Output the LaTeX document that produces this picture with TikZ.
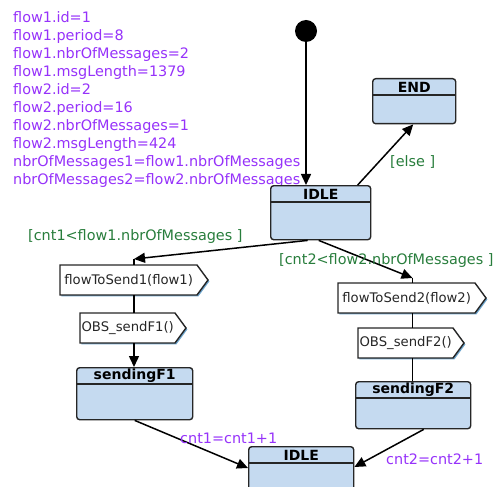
\documentclass[tikz,border=0pt]{standalone}
\usepackage{fontspec}
\setmainfont{DejaVu Sans}
\usetikzlibrary{arrows.meta}
\definecolor{stblue}{RGB}{197,218,240}
\definecolor{shblue}{RGB}{110,165,205}
\definecolor{vpurple}{RGB}{150,50,250}
\definecolor{ggreen}{RGB}{40,125,60}
\newcommand\mkstate[6]{%
  \node[stbox, minimum width=#4, minimum height=#5] (#1) at (#2,#3) {};
  \draw[line width=1.4pt, draw=black!85] ([yshift=-17pt]#1.north west) -- ([yshift=-17pt]#1.north east);
  \node[sttitle] (#1-t) at ([yshift=-9pt]#1.north) {#6};}
\newcommand\mksig[5]{%
  \fill[shblue, shift={(#2+1.4,#3+1.4)}] (0,0) -- (#4,0) -- (#4+11,15) -- (#4,30) -- (0,30) -- cycle;
  \draw[sigline, shift={(#2,#3)}] (0,0) -- (#4,0) -- (#4+11,15) -- (#4,30) -- (0,30) -- cycle;
  \node[sigtext, minimum width=#4, minimum height=30, anchor=north west] (#1) at (#2,#3) {#5};}
\begin{document}
\begin{tikzpicture}[x=1pt,y=-1pt,
  stbox/.style={draw=black!85, line width=1.4pt, fill=stblue, rounded corners=3pt, anchor=north west, inner sep=0pt},
  sttitle/.style={font=\fontsize{14}{16}\selectfont\bfseries, inner sep=0pt},
  sigline/.style={draw=black!85, line width=1.4pt, fill=white},
  sigtext/.style={font=\fontsize{13.2}{15}\selectfont, text=black!85, inner sep=0pt},
  vartext/.style={font=\fontsize{14.4}{18}\selectfont, text=vpurple, anchor=base west, inner sep=0pt},
  guard/.style={font=\fontsize{14.4}{18}\selectfont, text=ggreen, anchor=base west, inner sep=0pt},
  conn/.style={line width=1.5pt, draw=black},
  arr/.style={conn, -{Triangle[length=11pt,width=10pt]}}]
\useasboundingbox (0,0) rectangle (494,486);
\clip (0,0) rectangle (494,486);
% variable declarations
\node[vartext] (v1) at (13,22.7) {flow1.id=1};
\node[vartext] (v2) at (13,40.7) {flow1.period=8};
\node[vartext] (v3) at (13,58.7) {flow1.nbrOfMessages=2};
\node[vartext] (v4) at (13,76.7) {flow1.msgLength=1379};
\node[vartext] (v5) at (13,94.7) {flow2.id=2};
\node[vartext] (v6) at (13,112.7) {flow2.period=16};
\node[vartext] (v7) at (13,130.7) {flow2.nbrOfMessages=1};
\node[vartext] (v8) at (13,148.7) {flow2.msgLength=424};
\node[vartext] (v9) at (13,166.7) {nbrOfMessages1=flow1.nbrOfMessages};
\node[vartext] (v10) at (13,184.7) {nbrOfMessages2=flow2.nbrOfMessages};
% start
\node[circle, fill=black, minimum size=22pt, inner sep=0pt] (start) at (306,31) {};
% states
\mkstate{idleA}{270}{185}{100}{54}{IDLE}
\mkstate{end}{372}{78}{83}{45}{END}
\mkstate{sendA}{76}{367}{116}{52}{sendingF1}
\mkstate{sendB}{355}{381}{115}{47}{sendingF2}
\mkstate{idleB}{248}{446}{105}{70}{IDLE}
% signals
\mksig{fA}{60}{265}{137}{flowToSend1(flow1)}
\mksig{oA}{80}{313}{95}{OBS\_sendF1()}
\mksig{fB}{338}{283}{137}{flowToSend2(flow2)}
\mksig{oB}{358}{328}{95}{OBS\_sendF2()}
\coordinate (cA) at (134,259);
\coordinate (cB) at (412.5,278);
% connectors
\draw[arr] (start.south) -- (start.south |- idleA.north);
\draw[arr] ([xshift=37pt]idleA.north) -- ([xshift=-1pt]end.south);
\draw[arr] ([xshift=-13pt]idleA.south) -- (cA);
\draw[conn] (cA) -- (cA |- fA.north);
\draw[arr] ([xshift=-2pt]idleA.south) -- (cB);
\draw[conn] (cB) -- (cB |- fB.north);
\draw[conn] (cA |- fA.south) -- (cA |- oA.north);
\draw[arr] (cA |- oA.south) -- (cA |- sendA.north);
\draw[conn] (cB |- fB.south) -- (cB |- oB.north);
\draw[conn] (cB |- oB.south) -- (cB |- sendB.north);
\draw[arr] (sendA.south) -- ([yshift=-22pt]idleB.north west);
\draw[arr] ([xshift=10.5pt]sendB.south) -- ([yshift=-21pt]idleB.north east);
% labels
\node[guard] (gElse) at (390,167) {[else ]};
\node[guard] (gA) at (28,240) {[cnt1<flow1.nbrOfMessages ]};
\node[guard] (gB) at (279,264) {[cnt2<flow2.nbrOfMessages ]};
\node[vartext] (aA) at (180,443) {cnt1=cnt1+1};
\node[vartext] (aB) at (386,464) {cnt2=cnt2+1};
\end{tikzpicture}
\end{document}
